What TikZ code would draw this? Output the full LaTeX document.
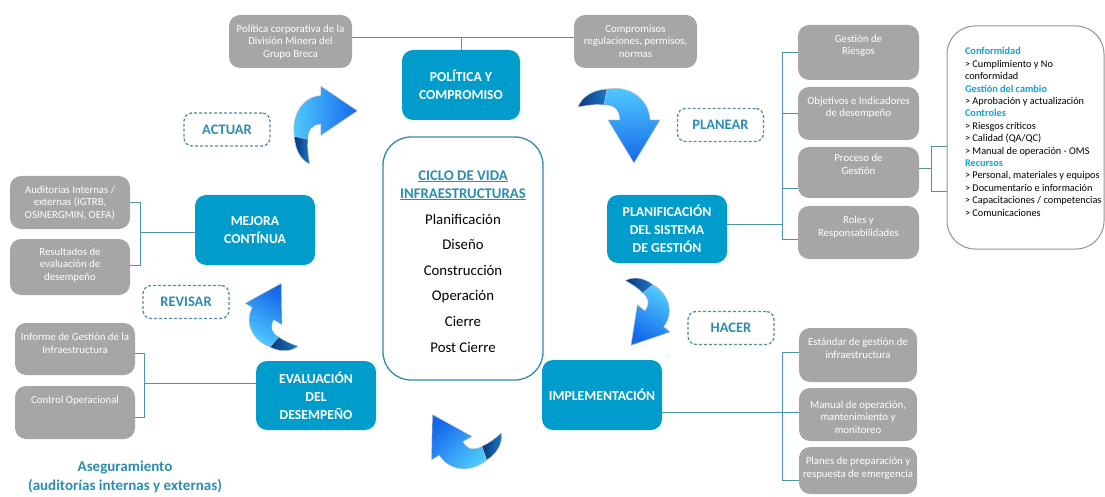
\documentclass[tikz,border=0pt]{standalone}
\usepackage{fontspec}
\setmainfont{Carlito}
\usetikzlibrary{shadings}
\definecolor{boxblue}{RGB}{0,157,204}
\definecolor{boxgray}{RGB}{166,166,166}
\definecolor{linecol}{RGB}{80,146,170}
\definecolor{labteal}{RGB}{44,141,178}
\definecolor{dashcol}{RGB}{86,140,163}
\definecolor{listblue}{RGB}{22,160,214}
\definecolor{cicloborder}{RGB}{50,138,172}
\definecolor{arrlight}{RGB}{82,204,255}
\definecolor{arrblue}{RGB}{20,105,235}
\definecolor{arrdark}{RGB}{8,55,125}
\definecolor{arrmid}{RGB}{30,120,200}
\newcommand{\gbtext}[4][17.5]{\parbox[c][#3pt][t]{#2pt}{\centering\rule{0pt}{#1pt}#4}}
\newcommand{\ribarrow}[6]{%
\begin{scope}[shift={(#1,#2)}, rotate=#3, xscale=#4, yscale=#5]
\shade[top color=arrlight, bottom color=arrblue, shading angle=#6, draw=gray!45, line width=0.4pt]
 (-11,-36) .. controls (12,-40) and (31,-26) .. (32,-5) -- (42,-5) -- (16,38) -- (-10,-5) -- (2,-5)
 .. controls (1,-16) and (-4,-20) .. (-14,-20) -- cycle;
\shade[left color=arrdark, right color=arrmid, draw=gray!45, line width=0.4pt]
 (-40,-18) .. controls (-36,-28) and (-26,-35) .. (-11,-36) -- (-14,-20) .. controls (-22,-21) and (-30,-20) .. cycle;
\end{scope}}
\begin{document}
\begin{tikzpicture}[x=1pt,y=-1pt,
  bluebox/.style={rounded corners=11pt, fill=boxblue, text=white, font=\fontsize{13.7}{18}\selectfont\bfseries, align=center, minimum width=118pt, minimum height=70pt, inner sep=0pt},
  graybox/.style={rounded corners=11pt, fill=boxgray, text=white, inner sep=0pt, font=\fontsize{10.8}{12.5}\selectfont},
  dashlab/.style={draw=dashcol, dash pattern=on 3pt off 2pt, line width=1.3pt, rounded corners=8pt, text=labteal, font=\fontsize{14.5}{15}\selectfont\bfseries, minimum width=86pt, minimum height=33pt, inner sep=0pt},
  conn/.style={draw=linecol, line width=1pt}
]
\useasboundingbox (0,0) rectangle (1105,497);

% blue boxes
\node[bluebox] (politica) at (461,85) {POLÍTICA Y\\COMPROMISO};
\node[bluebox, minimum width=120pt, minimum height=68pt] (planif) at (667,229) {PLANIFICACIÓN\\DEL SISTEMA\\DE GESTIÓN};
\node[bluebox, minimum width=120pt] (implem) at (602,395) {IMPLEMENTACIÓN};
\node[bluebox, minimum width=120pt, minimum height=69pt] (eval) at (316,395.5) {EVALUACIÓN\\DEL\\DESEMPEÑO};
\node[bluebox, minimum width=120pt] (mejora) at (255,230) {MEJORA\\CONTÍNUA};

% gray boxes
\node[graybox] (polcorp) at (290.5,41.5) {\gbtext{123}{53}{Política corporativa de la\\División Minera del\\Grupo Breca}};
\node[graybox] (comp) at (635.5,41.5) {\gbtext{123}{53}{Compromisos\\regulaciones, permisos,\\normas}};
\node[graybox] (riesgos) at (858.5,52.5) {\gbtext{121}{55}{Gestión de\\Riesgos}};
\node[graybox] (objet) at (858.5,113.5) {\gbtext{121}{53}{Objetivos e Indicadores\\de desempeño}};
\node[graybox] (proceso) at (858.5,172.5) {\gbtext[15]{121}{51}{Proceso de\\Gestión}};
\node[graybox] (roles) at (858.5,232.5) {\gbtext{121}{53}{Roles y\\Responsabilidades}};
\node[graybox] (audit) at (70,202.5) {\gbtext{120}{53}{Auditorías Internas /\\externas (IGTRB,\\OSINERGMIN, OEFA)}};
\node[graybox] (result) at (70,267) {\gbtext[16]{120}{56}{Resultados de\\evaluación de\\desempeño}};
\node[graybox] (informe) at (75,349) {\gbtext{120}{52}{Informe de Gestión de la\\Infraestructura}};
\node[graybox] (control) at (75,412.5) {\gbtext{120}{53}{Control Operacional}};
\node[graybox] (estandar) at (858,355) {\gbtext{118}{54}{Estándar de gestión de\\infraestructura}};
\node[graybox] (manual) at (858,414.5) {\gbtext[20]{118}{53}{Manual de operación,\\mantenimiento y\\monitoreo}};
\node[graybox] (planes) at (858,470.5) {\gbtext{118}{47}{Planes de preparación y\\respuesta de emergencia}};

% center box
\node[draw=cicloborder, line width=1.3pt, rounded corners=28pt, inner sep=0pt] (ciclo) at (463,258.5)
 {\parbox[c][243pt][t]{160pt}{\centering\fontsize{14.8}{25.6}\selectfont
 {\color{labteal}\bfseries\rule{0pt}{43pt}\underline{CICLO DE VIDA}\\[-7.6pt]
 \underline{INFRAESTRUCTURAS}}\\[0.4pt]
 Planificación\\ Diseño\\ Construcción\\ Operación\\ Cierre\\ Post Cierre}};

% list box
\node[draw=gray!85, line width=1pt, rounded corners=28pt, inner sep=0pt] (lista) at (1025.5,137.5)
 {\parbox[c][223pt][t]{157pt}{\raggedright\leftskip=18pt\fontsize{10.3}{12.4}\selectfont
 \rule{0pt}{29pt}{\color{listblue}\bfseries Conformidad}\\
 > Cumplimiento y No\\
 conformidad\\
 {\color{listblue}\bfseries Gestión del cambio}\\
 > Aprobación y actualización\\
 {\color{listblue}\bfseries Controles}\\
 > Riesgos críticos\\
 > Calidad (QA/QC)\\
 > Manual de operación - OMS\\
 {\color{listblue}\bfseries Recursos}\\
 > Personal, materiales y equipos\\
 > Documentario e información\\
 > Capacitaciones / competencias\\
 > Comunicaciones}};

% dashed labels
\node[dashlab] (actuar) at (227,129.5) {ACTUAR};
\node[dashlab] (planear) at (720.5,125) {PLANEAR};
\node[dashlab] (hacer) at (731,328) {HACER};
\node[dashlab] (revisar) at (186,302) {REVISAR};

% assurance text
\node[text=labteal, font=\fontsize{15}{19}\selectfont\bfseries, align=center] (aseg) at (125,476.5) {Aseguramiento\\(auditorías internas y externas)};

% connectors
\draw[conn] ([yshift=3.5pt]polcorp.east) -- ([yshift=3.5pt]comp.west);
\draw[conn] (politica.north) -- ++(0,-12);
\draw[conn] ([yshift=5pt]planif.east) -- ++(56,0);
\draw[conn] (riesgos.west) -- ++(-15,0) |- ([yshift=-6.5pt]roles.west);
\draw[conn] (objet.west) -- ++(-15,0);
\draw[conn] ([yshift=-16.5pt]proceso.west) -- ++(-15,0);
\draw[conn] ([yshift=3.5pt]proceso.east) -- ++(13,0);
\draw[conn] (lista.west |- proceso.north) -- ++(-15,0) -- ++(0,45) -- ++(15,0);
\draw[conn] ([yshift=-17pt]implem.east) -- ([yshift=2.5pt]manual.west);
\draw[conn] ([yshift=3pt]estandar.west) -- ++(-16,0) |- ([yshift=-9.5pt]planes.west);
\draw[conn] ([yshift=-2pt]mejora.west) -- ++(-55,0);
\draw[conn] ([yshift=-0.5pt]audit.east) -- ++(10,0) |- ([yshift=2pt]result.east);
\draw[conn] ([yshift=12.5pt]eval.west) -- ++(-112,0);
\draw[conn] ([yshift=-4pt]informe.east) -- ++(9,0) |- ([yshift=-4.5pt]control.east);

% curved arrows
\ribarrow{618}{125}{0}{1}{1}{0}
\ribarrow{325}{126}{90}{0.95}{0.85}{90}
\ribarrow{641}{313}{-40}{0.82}{0.82}{-30}
\ribarrow{277}{317}{150}{0.82}{0.82}{150}
\ribarrow{462}{437}{210}{0.9}{0.9}{225}
\end{tikzpicture}
\end{document}
